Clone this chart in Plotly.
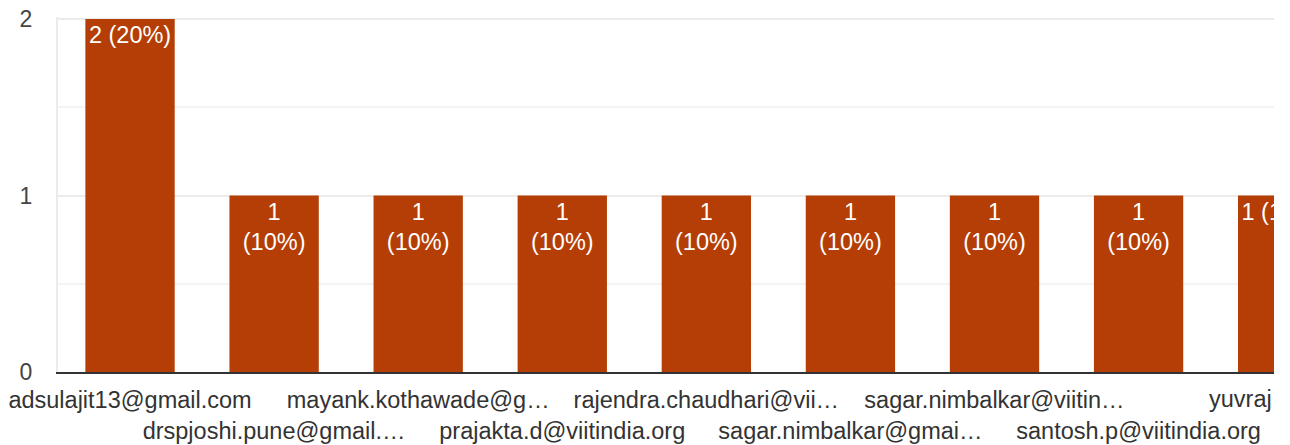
import plotly.graph_objects as go

# ---- data ----
categories = [
    "adsulajit13@gmail.com",
    "drspjoshi.pune@gmail.…",
    "mayank.kothawade@g…",
    "prajakta.d@viitindia.org",
    "rajendra.chaudhari@vii…",
    "sagar.nimbalkar@gmai…",
    "sagar.nimbalkar@viitin…",
    "santosh.p@viitindia.org",
    "yuvraj",
]
counts = [2, 1, 1, 1, 1, 1, 1, 1, 1]
percents = [20, 10, 10, 10, 10, 10, 10, 10, 10]
label_breaks = [" ", "<br>", "<br>", "<br>", "<br>", "<br>", "<br>", "<br>", " "]
y_ticks = [0, 1, 2]

FONT = "Liberation Sans, Arial, sans-serif"
BAR_COLOR = "#b43e05"

bar_text = [f"{c}{b}({p}%)" for c, p, b in zip(counts, percents, label_breaks)]
x_idx = list(range(len(categories)))
# staggered two-row category labels
tick_text = [("<br>" + c) if i % 2 else c for i, c in enumerate(categories)]

fig = go.Figure()
fig.add_trace(go.Bar(
    x=x_idx,
    y=counts,
    marker=dict(color=BAR_COLOR, line=dict(width=0)),
    text=bar_text,
    textposition="inside",
    insidetextanchor="end",
    textangle=0,
    constraintext="none",
    cliponaxis=True,
    textfont=dict(family=FONT, size=23.5, color="white"),
    hoverinfo="skip",
))

fig.update_layout(
    width=1282,
    height=437,
    margin=dict(l=50, r=16, t=9, b=73, autoexpand=False),
    paper_bgcolor="white",
    plot_bgcolor="white",
    showlegend=False,
    bargap=0.38,
    font=dict(family=FONT),
    xaxis=dict(
        range=[-0.5, 7.94],
        tickmode="array",
        tickvals=x_idx,
        ticktext=tick_text,
        tickangle=0,
        ticks="",
        showgrid=False,
        zeroline=False,
        showline=True,
        linecolor="#333333",
        linewidth=2,
        automargin=False,
        tickfont=dict(family=FONT, size=23.5, color="#333333"),
        ticklabelstandoff=6,
    ),
    yaxis=dict(
        range=[0, 2.012],
        tickmode="array",
        tickvals=y_ticks,
        ticktext=[str(v) for v in y_ticks],
        ticks="",
        showgrid=True,
        gridcolor="#ebebeb",
        gridwidth=2,
        zeroline=False,
        showline=True,
        linecolor="#ebebeb",
        linewidth=2,
        automargin=False,
        ticklabeloverflow="allow",
        tickfont=dict(family=FONT, size=23, color="#444444"),
        ticklabelstandoff=19,
        minor=dict(tickmode="linear", tick0=0, dtick=0.5, showgrid=True,
                   gridcolor="#f4f4f4", gridwidth=2, ticks=""),
    ),
)

# last category label lies beyond the visible axis range (its bar is cut off)
fig.add_annotation(
    text=categories[-1],
    xref="paper", x=1, xanchor="right",
    yref="paper", y=0, yanchor="top",
    yshift=-12,
    showarrow=False,
    font=dict(family=FONT, size=23.5, color="#333333"),
)

fig.write_html("out.html")
